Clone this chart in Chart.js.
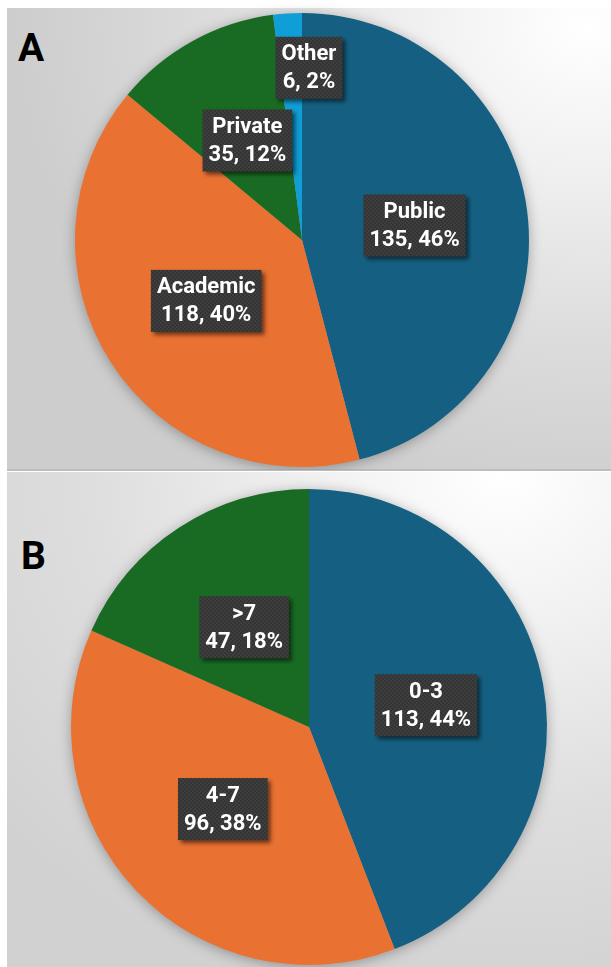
<!DOCTYPE html>
<html>
<head>
<meta charset="utf-8">
<script src="https://cdn.jsdelivr.net/npm/chart.js@4/dist/chart.umd.min.js"></script>
<style>
  html, body { margin: 0; padding: 0; background: #fff; }
  body { width: 611px; height: 967px; position: relative; overflow: hidden; }
  .panel { position: absolute; left: 7px; width: 604px; }
  #panelA {
    top: 8px; height: 461px;
    background: radial-gradient(ellipse 95% 105% at 96% 4%, #ffffff 0%, #f0f0f0 30%, #dcdcdc 65%, #cdcdcd 100%);
    border-bottom: 2px solid #bdbdbd;
  }
  #panelB {
    top: 472px; height: 495px;
    background: radial-gradient(ellipse 110% 110% at 82% 0%, #ffffff 0%, #f1f1f1 28%, #dedede 62%, #d1d1d1 100%);
  }
  .tag { position: absolute; font: bold 39px Roboto, sans-serif; line-height: 39px; color: #000; }
  canvas { position: absolute; left: 0; }
</style>
</head>
<body>
<div class="panel" id="panelA"></div>
<div class="panel" id="panelB"></div>
<div class="tag" style="left:18px;top:29px">A</div>
<div class="tag" style="left:21px;top:537px">B</div>
<canvas id="pieA" width="611" height="470" style="top:0"></canvas>
<canvas id="pieB" width="611" height="495" style="top:472px"></canvas>
<script>
// Panel A: sector
const sectorLabels = ['Public', 'Academic', 'Private', 'Other'];
const sectorValues = [135, 118, 35, 6];
// Panel B: years
const yearLabels = ['0-3', '4-7', '>7'];
const yearValues = [113, 96, 47];

const COLORS = ['#156082', '#E97132', '#196B24', '#0F9ED5'];

// dark dotted fill like the Office data label boxes
function boxPattern(ctx) {
  const c = document.createElement('canvas');
  c.width = 4; c.height = 4;
  const p = c.getContext('2d');
  p.fillStyle = '#3e3e3e';
  p.fillRect(0, 0, 4, 4);
  p.fillStyle = '#343434';
  p.fillRect(0, 0, 2, 2);
  p.fillRect(2, 2, 2, 2);
  return ctx.createPattern(c, 'repeat');
}

const pieShadow = {
  id: 'pieShadow',
  beforeDatasetsDraw(chart) {
    const arc = chart.getDatasetMeta(0).data[0];
    if (!arc) return;
    const ctx = chart.ctx;
    ctx.save();
    ctx.shadowColor = 'rgba(0,0,0,0.35)';
    ctx.shadowBlur = 14;
    ctx.shadowOffsetY = 2;
    ctx.fillStyle = '#999';
    ctx.beginPath();
    ctx.arc(arc.x, arc.y, arc.outerRadius - 1, 0, Math.PI * 2);
    ctx.fill();
    ctx.restore();
  }
};

const boxLabels = {
  id: 'boxLabels',
  afterDatasetsDraw(chart, args, opts) {
    const ctx = chart.ctx;
    const ds = chart.data.datasets[0];
    const total = ds.data.reduce((a, b) => a + b, 0);
    const fill = boxPattern(ctx);
    chart.getDatasetMeta(0).data.forEach((arc, i) => {
      const mid = (arc.startAngle + arc.endAngle) / 2;
      const r = arc.outerRadius * (opts.radius[i] ?? 0.5);
      const x = arc.x + Math.cos(mid) * r + (opts.dx[i] || 0);
      const y = arc.y + Math.sin(mid) * r;
      const lines = [chart.data.labels[i], `${ds.data[i]}, ${Math.round(ds.data[i] / total * 100)}%`];
      ctx.save();
      ctx.font = 'bold 22px Roboto, sans-serif';
      const w = Math.max(...lines.map(t => ctx.measureText(t).width)) + 12;
      const h = 62;
      ctx.shadowColor = 'rgba(0,0,0,0.55)';
      ctx.shadowBlur = 4;
      ctx.shadowOffsetX = 3;
      ctx.shadowOffsetY = 3;
      ctx.fillStyle = fill;
      ctx.fillRect(x - w / 2, y - h / 2, w, h);
      ctx.shadowColor = 'transparent';
      ctx.fillStyle = '#ffffff';
      ctx.textAlign = 'center';
      ctx.textBaseline = 'middle';
      ctx.fillText(lines[0], x, y - 13);
      ctx.fillText(lines[1], x, y + 15);
      ctx.restore();
    });
  }
};

function makePie(id, labels, values, padding, labelOpts) {
  return new Chart(document.getElementById(id), {
    type: 'pie',
    data: {
      labels,
      datasets: [{ data: values, backgroundColor: COLORS.slice(0, values.length), borderWidth: 0, hoverOffset: 0 }]
    },
    options: {
      responsive: false,
      animation: false,
      events: [],
      layout: { padding },
      plugins: { legend: { display: false }, tooltip: { enabled: false }, boxLabels: labelOpts }
    },
    plugins: [pieShadow, boxLabels]
  });
}

makePie('pieA', sectorLabels, sectorValues,
  { left: 75, right: 82, top: 13, bottom: 3 },
  { radius: [0.5, 0.5, 0.5, 0.76], dx: [0, 0, 0, 18] });
makePie('pieB', yearLabels, yearValues,
  { left: 71, right: 64, top: 17, bottom: 2 },
  { radius: [0.5, 0.5, 0.5], dx: [0, 0, 0] });
</script>
</body>
</html>
